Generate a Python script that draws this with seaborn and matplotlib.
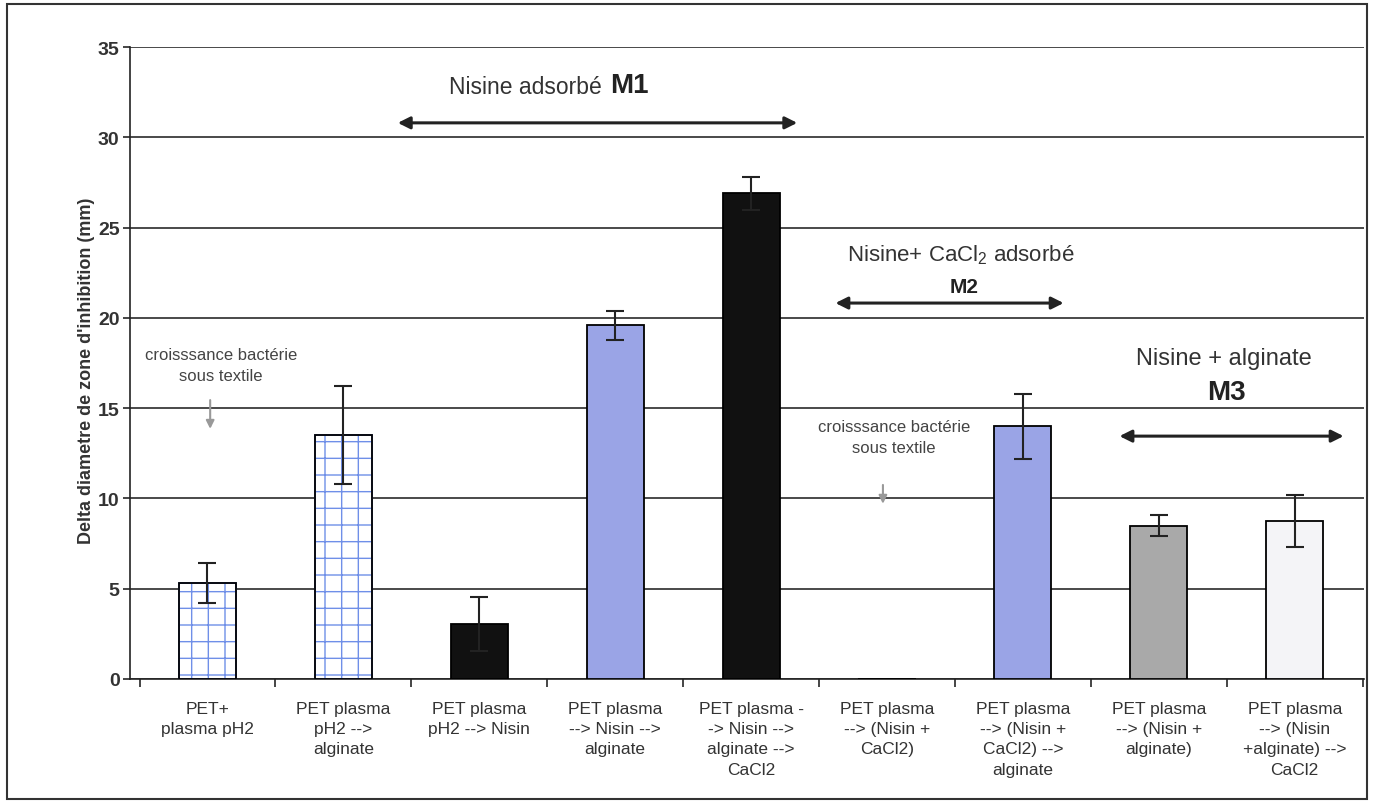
import numpy as np
import pandas as pd
import matplotlib
matplotlib.use("Agg")
import matplotlib.pyplot as plt
from matplotlib.patches import Rectangle
import seaborn as sns

# data
labels = ["PET+\nplasma pH2",
          "PET plasma\npH2 -->\nalginate",
          "PET plasma\npH2 --> Nisin",
          "PET plasma\n--> Nisin -->\nalginate",
          "PET plasma -\n-> Nisin -->\nalginate -->\nCaCl2",
          "PET plasma\n--> (Nisin +\nCaCl2)",
          "PET plasma\n--> (Nisin +\nCaCl2) -->\nalginate",
          "PET plasma\n--> (Nisin +\nalginate)",
          "PET plasma\n--> (Nisin\n+alginate) -->\nCaCl2"]
values = [5.3, 13.5, 3.05, 19.6, 26.9, 0.0, 14.0, 8.5, 8.75]
errors = [1.1, 2.7, 1.5, 0.8, 0.9, np.nan, 1.8, 0.6, 1.45]
colors = ["#ffffff", "#ffffff", "#111111", "#9aa4e6", "#111111",
          "#ffffff", "#9aa4e6", "#a9a9a9", "#f4f4f7"]
hatched = [0, 1]

sns.set_style("white")
plt.rcParams['font.family'] = ['Liberation Sans', 'DejaVu Sans']
plt.rcParams['mathtext.fontset'] = 'custom'
plt.rcParams['mathtext.rm'] = 'Liberation Sans'
plt.rcParams['mathtext.default'] = 'regular'
plt.rcParams['hatch.linewidth'] = 1.0

df = pd.DataFrame({"cond": labels, "val": values})

fig = plt.figure(figsize=(13.77, 8.03), dpi=100)
ax = fig.add_axes([0.0944, 0.1532, 0.8962, 0.787])

sns.barplot(data=df, x="cond", y="val", hue="cond", palette=colors,
            legend=False, width=0.42, edgecolor="black", linewidth=1.3,
            saturation=1, ax=ax, zorder=3)

# blue grid hatch on the first two bars, black outline on top
for i in hatched:
    p = ax.patches[i]
    p.set_edgecolor("#6f8fe8")
    p.set_hatch("+")
    ax.add_patch(Rectangle(p.get_xy(), p.get_width(), p.get_height(),
                           fill=False, edgecolor="black", linewidth=1.3, zorder=4))

x = np.arange(len(values))
err = np.array(errors)
ok = ~np.isnan(err)
ax.errorbar(x[ok], np.array(values)[ok], yerr=err[ok], fmt="none",
            ecolor="#222222", elinewidth=1.5, capsize=6.5, capthick=1.5, zorder=5)

ax.set_ylim(0, 35)
ax.set_xlim(-0.57, len(values) - 0.49)
ax.set_yticks(range(0, 36, 5))
ax.yaxis.grid(True, color="#2a2a2a", linewidth=1.2, zorder=0)
ax.set_axisbelow(True)
for s in ["top", "right"]:
    ax.spines[s].set_visible(False)
ax.spines["left"].set_color("#222222")
ax.spines["bottom"].set_color("#222222")
ax.spines["left"].set_linewidth(1.2)
ax.spines["bottom"].set_linewidth(1.2)

ax.tick_params(axis="y", left=True, length=5, width=1.2, pad=2.5, labelsize=14)
for t in ax.get_yticklabels():
    t.set_fontweight("bold")
    t.set_color("#333333")
ax.set_xticks(x)
ax.set_xticklabels(labels, fontsize=12.5, color="#333333", linespacing=1.45)
ax.tick_params(axis="x", bottom=False, pad=12)
ax.set_xticks(np.arange(-0.5, len(values), 1), minor=True)
ax.tick_params(axis="x", which="minor", bottom=True, length=6, width=1.2)
ax.set_xlabel("")
ax.set_ylabel("Delta diametre de zone d'inhibition (mm)", fontsize=13,
              fontweight="bold", color="#333333")
ax.yaxis.set_label_coords(-0.028, 0.49)

# annotations
arrow = dict(arrowstyle="<|-|>", color="#222222", lw=2.2, mutation_scale=18)
ax.text(2.90, 32.8, "Nisine adsorbé", fontsize=16.5, color="#333333",
        ha="right", va="center")
ax.text(2.96, 32.9, "M1", fontsize=20, fontweight="bold", color="#222222",
        ha="left", va="center")
ax.annotate("", xy=(1.38, 30.8), xytext=(4.36, 30.8), arrowprops=arrow)

ax.text(5.545, 23.5, "Nisine+ CaCl$_2$ adsorbé", fontsize=16, color="#333333",
        ha="center", va="center")
ax.text(5.57, 21.75, "M2", fontsize=15, fontweight="bold", color="#222222",
        ha="center", va="center")
ax.annotate("", xy=(4.60, 20.82), xytext=(6.32, 20.82), arrowprops=arrow)

ax.text(7.48, 17.77, "Nisine + alginate", fontsize=17, color="#333333",
        ha="center", va="center")
ax.text(7.50, 15.9, "M3", fontsize=20, fontweight="bold", color="#222222",
        ha="center", va="center")
ax.annotate("", xy=(6.69, 13.45), xytext=(8.38, 13.45), arrowprops=arrow)

small_arrow = dict(arrowstyle="-|>", color="#999999", lw=1.5, mutation_scale=12)
ax.text(0.10, 17.4, "croisssance bactérie\nsous textile", fontsize=12,
        color="#444444", ha="center", va="center", linespacing=1.45)
ax.annotate("", xy=(0.02, 13.7), xytext=(0.02, 15.6), arrowprops=small_arrow)
ax.text(5.05, 13.4, "croisssance bactérie\nsous textile", fontsize=12,
        color="#444444", ha="center", va="center", linespacing=1.45)
ax.annotate("", xy=(4.97, 9.55), xytext=(4.97, 10.9), arrowprops=small_arrow)

# outer frame
fig.add_artist(Rectangle((7 / 1377, 3 / 803), 1360 / 1377, 795 / 803,
                         transform=fig.transFigure, fill=False,
                         edgecolor="#333333", linewidth=1.5))

fig.savefig("out.png", dpi=100)
